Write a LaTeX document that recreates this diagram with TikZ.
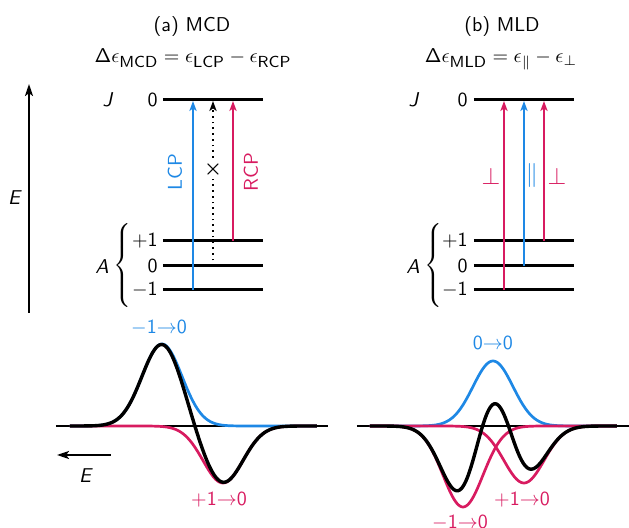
\documentclass[tikz,border=0pt]{standalone}
\usepackage{amsmath}
\usetikzlibrary{arrows.meta}
\definecolor{cblue}{HTML}{1E88E5}
\definecolor{cred}{HTML}{D81B60}
\newcommand{\subtxt}[1]{\text{\fontsize{8}{9}\selectfont\sffamily #1}}
\newcommand{\brc}{$\nulldelimiterspace=0pt\left\{\vrule width0pt height 18pt depth 18pt\right.$}
\tikzset{
  declare function={g(\x,\c)=exp(-0.5*((\x-\c)/20)^2);},
  level/.style={line width=1.5pt},
  trans/.style={line width=0.85pt,-{Stealth[length=5pt,width=3.6pt,inset=1.3pt]}},
  lbl/.style={inner sep=0pt},
  big/.style={inner sep=0pt,font=\fontsize{12}{14}\selectfont},
  curve/.style={line width=1.35pt},
  sumcurve/.style={line width=1.7pt,black},
  baseln/.style={line width=0.6pt,black},
}
\begin{document}
\begin{tikzpicture}[x=0.5pt,y=-0.5pt,font=\fontsize{10}{12}\selectfont\sffamily]
\useasboundingbox (0,0) rectangle (629,528);

% titles
\node[lbl,anchor=base] (ta) at (192,32) {(a) MCD};
\node[lbl,anchor=base] (fa) at (193,63) {$\mathsf{\Delta}\epsilon_{\subtxt{MCD}}=\epsilon_{\subtxt{LCP}}-\epsilon_{\subtxt{RCP}}$};
\node[lbl,anchor=base] (tb) at (502,32) {(b) MLD};
\node[lbl,anchor=base] (fb) at (501,63) {$\mathsf{\Delta}\epsilon_{\subtxt{MLD}}=\epsilon_{\parallel}-\epsilon_{\perp}$};

% energy axis
\coordinate (e0) at (29,313);
\coordinate (e1) at (29,84);
\draw[line width=1pt,-{Stealth[length=6pt,width=4pt,inset=1.4pt]}] (e0) -- (e1);
\node[lbl] (E) at (15,198) {\textit{E}};

% ===== panel a levels =====
\coordinate (aJl) at (163,100); \coordinate (aJr) at (263,100);
\coordinate (aPl) at (163,241); \coordinate (aPr) at (263,241);
\coordinate (aZl) at (163,266); \coordinate (aZr) at (263,266);
\coordinate (aMl) at (163,290); \coordinate (aMr) at (263,290);
\draw[level] (aJl) -- (aJr);
\draw[level] (aPl) -- (aPr);
\draw[level] (aZl) -- (aZr);
\draw[level] (aMl) -- (aMr);
\node[lbl] (aJ) at (108,100) {\textit{J}};
\node[lbl,anchor=east] (aJ0) at (158,100) {0};
\node[lbl,anchor=east] (aP) at (158,241) {$+\mathsf{1}$};
\node[lbl,anchor=east] (aZ) at (158,266) {0};
\node[lbl,anchor=east] (aM) at (158,290) {$-\mathsf{1}$};
\node[lbl] (aA) at (102,267) {\textit{A}};
\node[lbl] (abr) at (122,266) {\brc};

% transitions a
\coordinate (a1s) at (193,290); \coordinate (a1e) at (193,101);
\coordinate (a2s) at (213,266); \coordinate (a2e) at (213,101);
\coordinate (a3s) at (233,241); \coordinate (a3e) at (233,101);
\draw[trans,cblue] (a1s) -- (a1e);
\draw[trans,black,dotted] (a2s) -- (a2e);
\draw[trans,cred] (a3s) -- (a3e);
\node[lbl,fill=white,inner sep=0.3pt] (ax) at (213,170) {$\boldsymbol{\times}$};
\node[lbl,rotate=90,cblue] (LCP) at (175,172) {LCP};
\node[lbl,rotate=90,cred] (RCP) at (251,172) {RCP};

% ===== panel b levels =====
\coordinate (bJl) at (474,100); \coordinate (bJr) at (574,100);
\coordinate (bPl) at (474,241); \coordinate (bPr) at (574,241);
\coordinate (bZl) at (474,266); \coordinate (bZr) at (574,266);
\coordinate (bMl) at (474,290); \coordinate (bMr) at (574,290);
\draw[level] (bJl) -- (bJr);
\draw[level] (bPl) -- (bPr);
\draw[level] (bZl) -- (bZr);
\draw[level] (bMl) -- (bMr);
\node[lbl] (bJ) at (414,100) {\textit{J}};
\node[lbl,anchor=east] (bJ0) at (468,100) {0};
\node[lbl,anchor=east] (bP) at (468,241) {$+\mathsf{1}$};
\node[lbl,anchor=east] (bZ) at (468,266) {0};
\node[lbl,anchor=east] (bM) at (468,290) {$-\mathsf{1}$};
\node[lbl] (bA) at (413,267) {\textit{A}};
\node[lbl] (bbr) at (433,266) {\brc};

% transitions b
\coordinate (b1s) at (504,290); \coordinate (b1e) at (504,101);
\coordinate (b2s) at (524,266); \coordinate (b2e) at (524,101);
\coordinate (b3s) at (544,241); \coordinate (b3e) at (544,101);
\draw[trans,cred] (b1s) -- (b1e);
\draw[trans,cblue] (b2s) -- (b2e);
\draw[trans,cred] (b3s) -- (b3e);
\node[big,cred] (bp1) at (491,176) {$\perp$};
\node[big,cblue] (bpar) at (532,176) {$\parallel$};
\node[big,cred] (bp2) at (557,176) {$\perp$};

% ===== spectra a =====
\coordinate (sa0) at (56,426); \coordinate (sa1) at (328,426);
\draw[baseln] (sa0) -- (sa1);
\draw[curve,cblue] plot[domain=70:317,samples=160] (\x,{426-82*g(\x,162)});
\draw[curve,cred] plot[domain=70:317,samples=160] (\x,{426+57*g(\x,223)});
\draw[sumcurve] plot[domain=70:317,samples=200] (\x,{426-82*g(\x,162)+57*g(\x,223)});
\node[lbl,cblue] (la1) at (159,328) {$-\mathsf{1}{\rightarrow}\mathsf{0}$};
\node[lbl,cred] (la2) at (219,500) {$+\mathsf{1}{\rightarrow}\mathsf{0}$};
\coordinate (ea0) at (111,455); \coordinate (ea1) at (57,455);
\draw[line width=1pt,-{Stealth[length=6pt,width=4pt,inset=1.4pt]}] (ea0) -- (ea1);
\node[lbl] (Eb) at (86,476) {\textit{E}};

% ===== spectra b =====
\coordinate (sb0) at (357,426); \coordinate (sb1) at (629,426);
\draw[baseln] (sb0) -- (sb1);
\draw[curve,cblue] plot[domain=370:617,samples=160] (\x,{426-65*g(\x,493)});
\draw[curve,cred] plot[domain=370:617,samples=160] (\x,{426+81*g(\x,463)});
\draw[curve,cred] plot[domain=370:617,samples=160] (\x,{426+57*g(\x,524)});
\draw[sumcurve] plot[domain=370:617,samples=200] (\x,{426-65*g(\x,493)+81*g(\x,463)+57*g(\x,524)});
\node[lbl,cblue] (lb1) at (493,343) {$\mathsf{0}{\rightarrow}\mathsf{0}$};
\node[lbl,cred] (lb2) at (522,500) {$+\mathsf{1}{\rightarrow}\mathsf{0}$};
\node[lbl,cred] (lb3) at (460,523) {$-\mathsf{1}{\rightarrow}\mathsf{0}$};
\end{tikzpicture}
\end{document}
